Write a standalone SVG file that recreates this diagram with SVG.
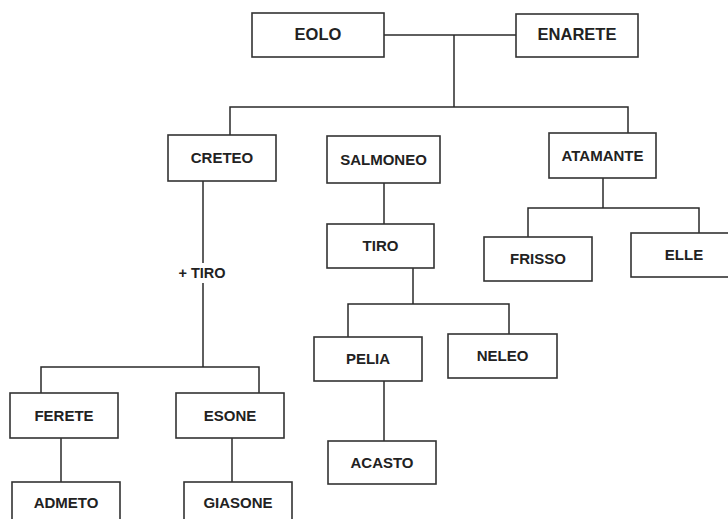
<svg xmlns="http://www.w3.org/2000/svg" width="728" height="519" viewBox="0 0 728 519">
  <style>
    .box { fill: #ffffff; stroke: #333333; stroke-width: 1.6; }
    .lbl { font-family: "Liberation Sans", Arial, sans-serif; font-weight: bold; font-size: 15px; fill: #222222; stroke: none; text-anchor: middle; }
    .big { font-size: 16.5px; }
    .wire { fill: none; stroke: #2a2a2a; stroke-width: 1.5; }
  </style>
  <rect width="728" height="519" fill="#ffffff"/>

  <!-- connectors -->
  <g id="connectors">
    <g class="wire">
      <path d="M384 35 H516"/>
      <path d="M454 35 V107"/>
      <path d="M230 135 V107 H628 V133"/>
      <path d="M203 181 V263"/>
      <path d="M203 283 V367"/>
      <path d="M41 393 V367 H259 V393"/>
      <path d="M61 438 V482"/>
      <path d="M232 438 V482"/>
      <path d="M384 183 V224"/>
      <path d="M413 268 V304"/>
      <path d="M348 337 V304 H509 V334"/>
      <path d="M384 381 V441"/>
      <path d="M603 178 V208"/>
      <path d="M528 237 V208 H699 V233"/>
    </g>
    <text class="lbl" x="202" y="278" style="font-size:14.5px">+ TIRO</text>
  </g>

  <!-- nodes -->
  <g id="eolo"><rect class="box" x="252" y="13" width="132" height="44"/><text class="lbl big" x="318" y="40">EOLO</text></g>
  <g id="enarete"><rect class="box" x="516" y="14" width="122" height="43"/><text class="lbl big" x="577" y="40">ENARETE</text></g>
  <g id="creteo"><rect class="box" x="168" y="135" width="108" height="46"/><text class="lbl" x="222" y="163">CRETEO</text></g>
  <g id="salmoneo"><rect class="box" x="327" y="136" width="113" height="47"/><text class="lbl" x="383.5" y="165">SALMONEO</text></g>
  <g id="atamante"><rect class="box" x="549" y="133" width="107" height="45"/><text class="lbl" x="602.5" y="161">ATAMANTE</text></g>
  <g id="tiro"><rect class="box" x="327" y="224" width="107" height="44"/><text class="lbl" x="380.5" y="251">TIRO</text></g>
  <g id="frisso"><rect class="box" x="484" y="237" width="108" height="44"/><text class="lbl" x="538" y="264">FRISSO</text></g>
  <g id="elle"><rect class="box" x="631" y="233" width="105" height="44"/><text class="lbl" x="684" y="260">ELLE</text></g>
  <g id="pelia"><rect class="box" x="314" y="337" width="108" height="44"/><text class="lbl" x="368" y="364">PELIA</text></g>
  <g id="neleo"><rect class="box" x="448" y="334" width="109" height="44"/><text class="lbl" x="502.5" y="361">NELEO</text></g>
  <g id="acasto"><rect class="box" x="328" y="441" width="108" height="43"/><text class="lbl" x="382" y="468">ACASTO</text></g>
  <g id="ferete"><rect class="box" x="10" y="393" width="108" height="45"/><text class="lbl" x="64" y="421">FERETE</text></g>
  <g id="esone"><rect class="box" x="176" y="393" width="108" height="45"/><text class="lbl" x="230" y="421">ESONE</text></g>
  <g id="admeto"><rect class="box" x="12" y="482" width="108" height="44"/><text class="lbl" x="66" y="508">ADMETO</text></g>
  <g id="giasone"><rect class="box" x="184" y="482" width="108" height="44"/><text class="lbl" x="238" y="508">GIASONE</text></g>
</svg>
